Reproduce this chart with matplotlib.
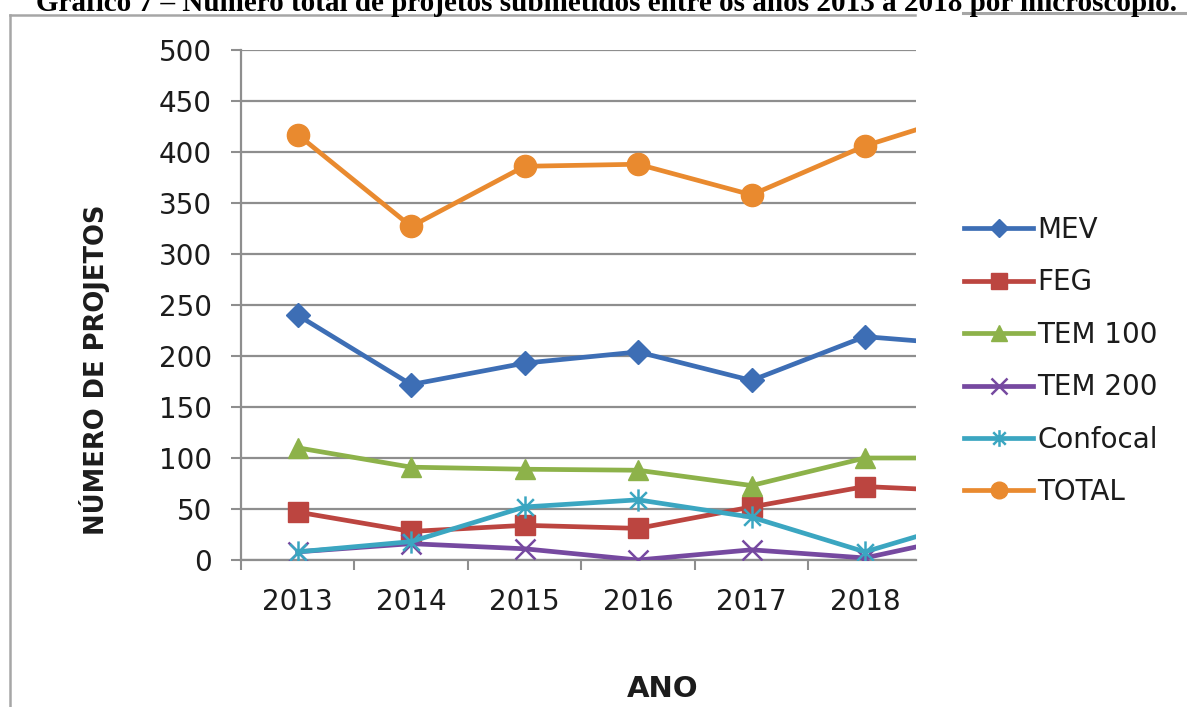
import matplotlib
matplotlib.use("Agg")
import matplotlib.pyplot as plt
from matplotlib.lines import Line2D
from matplotlib.path import Path

# Projetos submetidos por microscópio; 2019 sai cortado na borda direita do gráfico
anos = [2013, 2014, 2015, 2016, 2017, 2018, 2019]
mev = [240, 172, 193, 204, 176, 219, 210]
feg = [47, 28, 34, 31, 52, 72, 67]
tem100 = [110, 91, 89, 88, 73, 100, 100]
tem200 = [8, 16, 11, 0, 10, 2, 26]
confocal = [8, 18, 52, 59, 42, 8, 41]
total = [417, 327, 386, 388, 358, 406, 441]

rotulos_x = ["2013", "2014", "2015", "2016", "2017", "2018"]
ticks_y = [0, 50, 100, 150, 200, 250, 300, 350, 400, 450, 500]

titulo = ("Gráfico 7 – Número total de projetos submetidos entre os anos "
          "2013 a 2018 por microscópio.")

# asterisco estilo Excel: X com barra vertical
asterisco = Path(
    [(0, -1), (0, 1), (-0.75, -0.75), (0.75, 0.75), (-0.75, 0.75), (0.75, -0.75)],
    [Path.MOVETO, Path.LINETO, Path.MOVETO, Path.LINETO, Path.MOVETO, Path.LINETO],
)

series = [
    ("MEV", mev, "#3D6EB5", "D", 12),
    ("FEG", feg, "#BC4540", "s", 15),
    ("TEM 100", tem100, "#8DB24A", "^", 15),
    ("TEM 200", tem200, "#7649A0", "x", 15),
    ("Confocal", confocal, "#3BA6C1", asterisco, 16),
    ("TOTAL", total, "#E98A2F", "o", 16),
]

GRID = "#8E8E8E"
FRAME = "#A6A6A6"
TXT = "#1c1c1c"

plt.rcParams["font.family"] = "DejaVu Sans"

fig = plt.figure(figsize=(11.87, 7.07), dpi=100)
W, H = 1187, 707
ax = fig.add_axes([241 / W, 1 - 560 / H, (916 - 241) / W, (560 - 50) / H])

x = list(range(len(anos)))
handles = []
for nome, vals, cor, marc, ms in series:
    fino = marc == "x" or marc is asterisco
    ln, = ax.plot(x, vals, color=cor, lw=3.4, marker=marc, ms=ms,
                  mec=cor, mfc=cor, mew=1.8 if fino else 1.0,
                  solid_joinstyle="round", zorder=3)
    handles.append(ln)

ax.set_ylim(0, 500)
ax.set_xlim(-0.5, 5.45)
ax.set_yticks(ticks_y)
ax.set_yticklabels([str(v) for v in ticks_y], fontsize=20, color=TXT)
ax.set_xticks(range(len(rotulos_x)))
ax.set_xticklabels(rotulos_x, fontsize=20, color=TXT)
ax.set_xticks([i - 0.5 for i in range(len(rotulos_x))], minor=True)
ax.tick_params(axis="x", which="major", length=0, pad=20)
ax.tick_params(axis="x", which="minor", length=7, width=1.5, color=GRID, direction="out")
ax.tick_params(axis="y", length=7, width=1.5, color=GRID, pad=14)

ax.grid(axis="y", color=GRID, lw=1.6)
ax.set_axisbelow(True)
for lado in ("top", "right"):
    ax.spines[lado].set_visible(False)
for lado in ("left", "bottom"):
    ax.spines[lado].set_color(GRID)
    ax.spines[lado].set_linewidth(1.6)

fig.text(95 / W, 1 - 370 / H, "NÚMERO DE PROJETOS", rotation=90,
         ha="center", va="center", fontsize=18.5, fontweight="bold", color=TXT)
fig.text(663 / W, 1 - 689 / H, "ANO", ha="center", va="center",
         fontsize=21, fontweight="bold", color=TXT)

leg_handles = [Line2D([], [], color=h.get_color(), lw=3.4, marker=h.get_marker(),
                      ms=h.get_markersize() * 0.75, mec=h.get_color(), mfc=h.get_color(),
                      mew=h.get_markeredgewidth())
               for h in handles]
fig.legend(leg_handles, [s[0] for s in series], loc="center left",
           bbox_to_anchor=(964 / W, 1 - 361 / H), frameon=False, fontsize=20,
           handlelength=2.5, handletextpad=0.15, labelspacing=0.88,
           borderpad=0, borderaxespad=0, labelcolor=TXT)

# moldura cinza da área do gráfico e título cortado no topo
fig.add_artist(Line2D([10 / W, 10 / W], [0, 1 - 15 / H], color=FRAME, lw=1.8))
fig.add_artist(Line2D([10 / W, 915 / W], [1 - 15 / H, 1 - 15 / H], color=FRAME, lw=1.8))
fig.add_artist(Line2D([963 / W, 1], [1 - 13 / H, 1 - 13 / H], color=FRAME, lw=2.2))
fig.text(607 / W, 1 - 11 / H, titulo, ha="center", va="baseline",
         fontsize=21, fontweight="bold", family="Liberation Serif", color="black")

fig.savefig("out.png", dpi=100, facecolor="white")
